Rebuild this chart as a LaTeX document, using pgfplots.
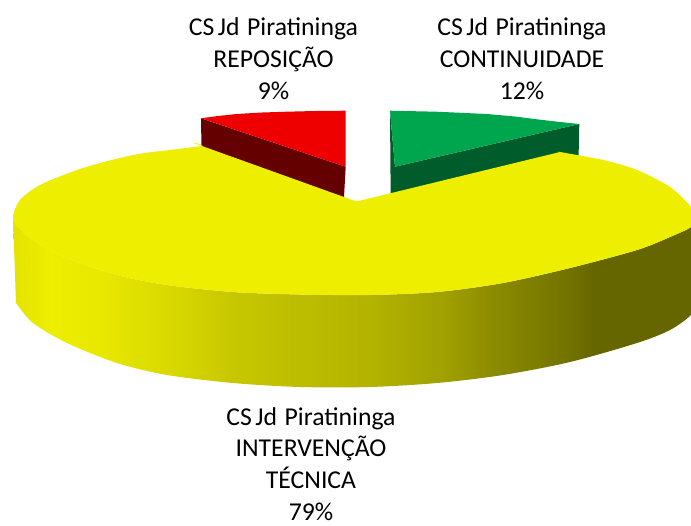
\documentclass[border=0pt]{standalone}
\usepackage{pgfplots}
\pgfplotsset{compat=1.18}
\usepackage{fontspec}
\setmainfont{Carlito}
\definecolor{topyellow}{HTML}{EEEE00}
\definecolor{topred}{HTML}{EE0000}
\definecolor{sidered}{HTML}{640000}
\definecolor{topgreen}{HTML}{00A64E}
\definecolor{sidegreen}{HTML}{005C2B}
\pgfdeclarehorizontalshading{sideshade}{100bp}{
 rgb(0bp)=(0.89,0.89,0);
 rgb(25.2bp)=(0.89,0.89,0);
 rgb(27.7bp)=(0.933,0.933,0);
 rgb(31.4bp)=(0.91,0.91,0);
 rgb(36.4bp)=(0.85,0.85,0);
 rgb(41.2bp)=(0.78,0.78,0);
 rgb(46.2bp)=(0.74,0.74,0);
 rgb(51.3bp)=(0.70,0.70,0);
 rgb(56.5bp)=(0.63,0.63,0);
 rgb(60.1bp)=(0.55,0.55,0);
 rgb(66.1bp)=(0.44,0.44,0);
 rgb(67.6bp)=(0.40,0.40,0);
 rgb(100bp)=(0.40,0.40,0)}
\begin{document}
\begin{tikzpicture}
\path[use as bounding box] (0,0) rectangle (691pt,525pt);
\begin{axis}[at={(0,0)},anchor=south west,scale only axis,width=691pt,height=525pt,
  xmin=0,xmax=691,ymin=0,ymax=525,y dir=reverse,hide axis,clip=true]
% green slice
\addplot[fill=sidegreen,draw=none] coordinates {(390,110.7)(395,166.7)(579.3,124)(578.5,160)(396,200)(390.7,200)} --cycle;
\addplot[fill=topgreen,draw=none] coordinates {(390,110.7)(436.7,111.7)(486.7,114)(515,116.5)(536.7,119.3)(560,122)(579.3,124)(395,166.7)} --cycle;
% red slice
\addplot[fill=sidered,draw=none] coordinates {(201,118.3)(345.7,166.7)(344,197)(344,205)(201.7,160)} --cycle;
\addplot[fill=topred,draw=none] coordinates {(201,118.3)(218,116)(236.7,114)(262,112.5)(286.7,111.7)(315,111)(345.7,110.7)(345.7,166.7)} --cycle;
% yellow side
\addplot[shading=sideshade,draw=none,smooth,tension=0.5] coordinates {
(13,218)(16,225)(33,240)(67,258)(117,275)(167,285)(233,292)(300,294.5)(370,295)(437,292)(503,283)(570,268)(637,250)(670,237)(691,227)(694,218)(694,218)
(694,305)(694,305)(691,315)(670,330)(637,343)(570,362)(503,375)(437,383)(370,387)(300,387)(233,383)(167,375)(117,363)(67,343)(33,323)(16,303)(16,303)} --cycle;
% yellow top
\addplot[fill=topyellow,draw=none,smooth,tension=0.5] coordinates {
(356.5,201.5)(202,146)(202,146)(170,150)(133,155)(83,168)(40,185)(20,200)(13,216)
(16,225)(33,240)(67,258)(117,275)(167,285)(233,292)(300,294.5)(370,295)(437,292)(503,283)(570,268)(637,250)(670,237)(691,227)(694,218)
(691,207)(670,187)(637,170)(603,160)(560,152)(560,152)} --cycle;
\node[align=center,font=\fontsize{25.7}{31.7}\selectfont] at (axis cs:273.5,58.5) {CS\hspace{3.5pt}Jd\hspace{7.5pt}Piratininga\\REPOSIÇÃO\\9\%};
\node[align=center,font=\fontsize{25.7}{31.7}\selectfont] at (axis cs:522,58.5) {CS\hspace{3.5pt}Jd\hspace{7.5pt}Piratininga\\CONTINUIDADE\\12\%};
\node[align=center,font=\fontsize{25.7}{31.7}\selectfont] at (axis cs:311,464) {CS\hspace{3.5pt}Jd\hspace{7.5pt}Piratininga\\INTERVENÇÃO\\TÉCNICA\\79\%};
\end{axis}
\end{tikzpicture}
\end{document}
